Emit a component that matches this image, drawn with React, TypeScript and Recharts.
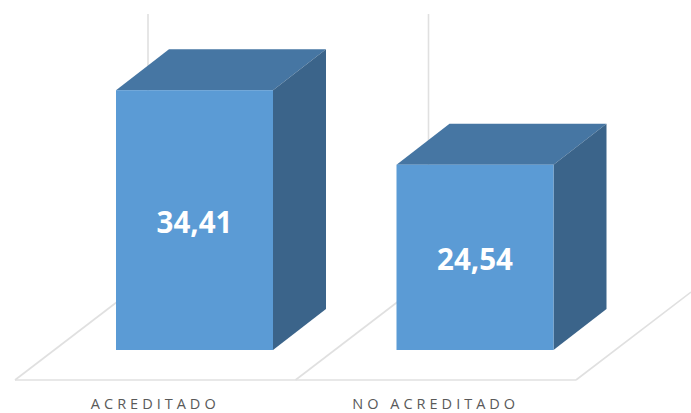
import { BarChart, Bar, XAxis, YAxis, Customized, LabelList } from "recharts";

const categories = ["ACREDITADO", "NO ACREDITADO"];
const values = [34.41, 24.54];

const data = categories.map((name, i) => ({ name, value: values[i] }));

const WIDTH = 691;
const HEIGHT = 413;
const AXIS_HEIGHT = 30;
const margin = { top: 78, right: 115, bottom: 3, left: 15 };

// where the bars sit on the floor, and how deep the boxes are
const floorDx = 39;
const floorDy = -30;
const depthX = 53;
const depthY = -41;

const GRID = "#E0E0E0";

function Floor() {
  const y0 = HEIGHT - margin.bottom - AXIS_HEIGHT;
  const x0 = margin.left;
  const x2 = WIDTH - margin.right;
  const band = (x2 - x0) / categories.length;
  const lines = [0, 1, 2];
  return (
    <g stroke={GRID} strokeWidth={1.6} fill="none">
      <line x1={x0} y1={y0} x2={x2} y2={y0} />
      {lines.map((i) => {
        const x = x0 + band * i;
        // the last one runs off the page
        const run = i === 2 ? 115 : 133;
        return <line key={i} x1={x} y1={y0} x2={x + run} y2={y0 - run * 0.765} />;
      })}
      {[0, 1].map((i) => {
        const x = x0 + band * i + 133;
        return <line key={i} x1={x} y1={14} x2={x} y2={y0 - 133 * 0.765} />;
      })}
    </g>
  );
}

function Box3D(props: any) {
  const { x, y, width, height } = props;
  const l = x + floorDx;
  const r = l + width;
  const t = y + floorDy;
  const b = t + height;
  return (
    <g>
      <polygon
        points={`${l},${t} ${r},${t} ${r + depthX},${t + depthY} ${l + depthX},${t + depthY}`}
        fill="#4676A3"
      />
      <polygon
        points={`${r},${t} ${r + depthX},${t + depthY} ${r + depthX},${b + depthY} ${r},${b}`}
        fill="#3B648A"
      />
      <rect x={l} y={t} width={width} height={height} fill="#5B9BD5" />
    </g>
  );
}

function ValueLabel(props: any) {
  const { x, y, width, height, value } = props;
  return (
    <text
      x={x + floorDx + width / 2}
      y={y + floorDy + height / 2 + 1}
      textAnchor="middle"
      dominantBaseline="central"
      fill="#FFFFFF"
      fontFamily="'Open Sans', sans-serif"
      fontWeight={700}
      fontSize={29.5}
    >
      {value.toFixed(2).replace(".", ",")}
    </text>
  );
}

export default function App() {
  return (
    <div style={{ position: "absolute", left: 0, top: 0, width: WIDTH, height: HEIGHT, background: "#fff" }}>
      <BarChart width={WIDTH} height={HEIGHT} data={data} margin={margin}>
        <Customized component={<Floor />} />
        <XAxis
          dataKey="name"
          height={AXIS_HEIGHT}
          axisLine={false}
          tickLine={false}
          interval={0}
          tickMargin={13}
          tick={{
            fill: "#595959",
            fontSize: 14.5,
            fontFamily: "'Open Sans', sans-serif",
            letterSpacing: 4,
          }}
        />
        <YAxis hide domain={[0, 40]} />
        <Bar dataKey="value" barSize={157} shape={<Box3D />} isAnimationActive={false}>
          <LabelList dataKey="value" content={<ValueLabel />} />
        </Bar>
      </BarChart>
    </div>
  );
}
